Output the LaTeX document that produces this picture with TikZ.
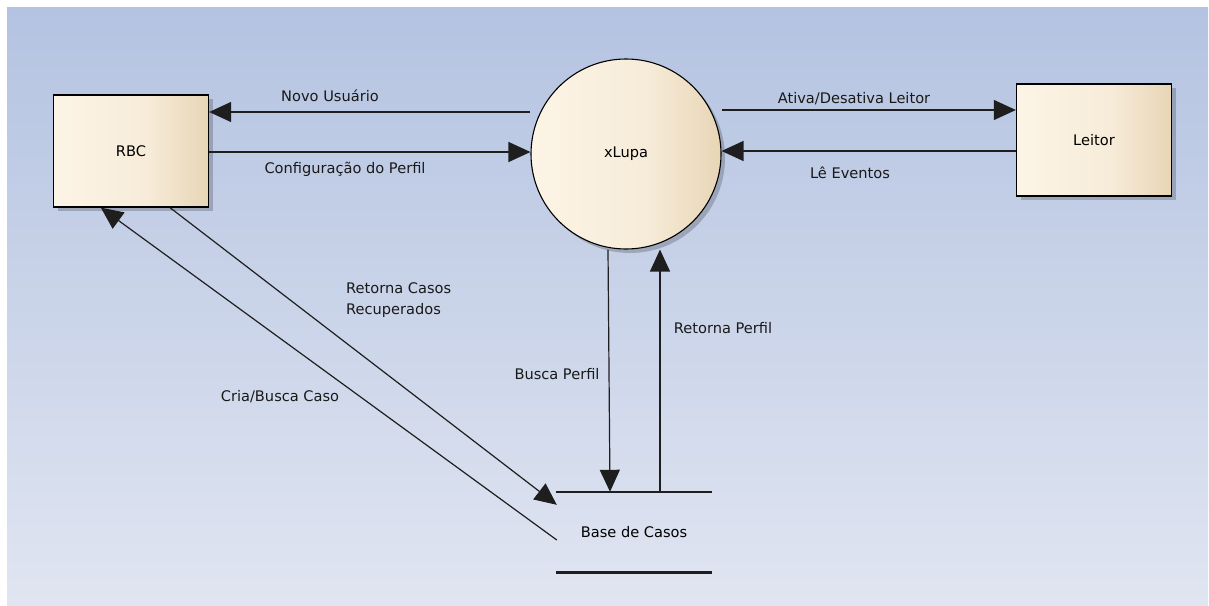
\documentclass[tikz,border=0pt]{standalone}
\usepackage{fontspec}
\setmainfont{DejaVu Sans}
\usetikzlibrary{arrows.meta, calc, shadows}
\definecolor{bgtop}{HTML}{B4C3E1}
\definecolor{bgbot}{HTML}{E0E5F1}
\definecolor{creamlight}{HTML}{FCF4E6}
\definecolor{creammid}{HTML}{F7ECD9}
\definecolor{creamdark}{HTML}{E8D5B6}
\definecolor{flowgray}{HTML}{1E1E1E}
\pgfdeclarehorizontalshading{creamfill}{100bp}{color(0bp)=(creamlight); color(25bp)=(creamlight);
  color(55bp)=(creammid); color(75bp)=(creamdark); color(100bp)=(creamdark)}

\begin{document}
\begin{tikzpicture}[x=1pt, y=-1pt, font=\fontsize{14.6}{21}\selectfont,
  >={Triangle[length=22pt, width=20pt]},
  entity/.style={draw=black, line width=1.3pt, shading=creamfill, minimum width=155pt, minimum height=112pt,
    drop shadow={shadow xshift=4pt, shadow yshift=-4pt, fill=black, opacity=.2}},
  process/.style={circle, draw=black, line width=1.1pt, shading=creamfill, minimum size=190pt,
    drop shadow={shadow xshift=4pt, shadow yshift=-4pt, fill=black, opacity=.2}},
  flow/.style={->, flowgray, line width=1.2pt},
  flowlabel/.style={text=black!90, inner sep=1pt}]
  % page and the soft blue backdrop
  \fill[white] (0,0) rectangle (1209,605);
  \shade[top color=bgtop, bottom color=bgbot] (7,7) rectangle (1208,605);
  % external entities and the process
  \node[entity] (rbc) at (131,151) {RBC};
  \node[entity] (leitor) at (1094,140) {Leitor};
  \node[process] (xlupa) at (626,154) {xLupa};
  % data store: two bars with its name between
  \node[minimum width=156pt, minimum height=80pt, inner sep=0pt] (base) at (634,532) {Base de Casos};
  \draw[flowgray, line width=2.6pt] (base.north west) -- (base.north east);
  \draw[flowgray, line width=2.6pt] (base.south west) -- (base.south east);
  % flows between RBC and xLupa
  \draw[flow] (xlupa.west |- 0,112) -- (rbc.east |- 0,112);
  \draw[flow] (rbc.east |- 0,152) -- (xlupa.west |- 0,152);
  \node[flowlabel] (lnovo) at (330,96) {Novo Usuário};
  \node[flowlabel] (lconfig) at (345,169) {Configuração do Perfil};
  % flows between xLupa and Leitor
  \draw[flow] (xlupa.east |- 0,110) -- (leitor.west |- 0,110);
  \draw[flow] (leitor.west |- 0,151) -- (xlupa.east |- 0,151);
  \node[flowlabel] (lativa) at (854,99) {Ativa/Desativa Leitor};
  \node[flowlabel] (leventos) at (850,173) {Lê Eventos};
  % flows between xLupa and the store
  \draw[flow] (xlupa.south -| 608,0) -- (base.north -| 610,0);
  \draw[flow] (base.north -| 660,0) -- (xlupa.south -| 660,0);
  \node[flowlabel] (lbusca) at (557,374) {Busca Perfil};
  \node[flowlabel] (lretperfil) at (723,328) {Retorna Perfil};
  % flows between RBC and the store
  \coordinate (casosin) at ($(base.north west)+(1,13)$);
  \coordinate (casosout) at ($(base.west)+(1,8)$);
  \draw[flow] ($(rbc.south)+(39,0)$) -- (casosin);
  \draw[flow] (casosout) -- ($(rbc.south west)+(48,0)$);
  \node[flowlabel, anchor=west, align=left] (lretcasos) at (345,300) {Retorna Casos\\Recuperados};
  \node[flowlabel] (lcria) at (280,397) {Cria/Busca Caso};
\end{tikzpicture}
\end{document}
